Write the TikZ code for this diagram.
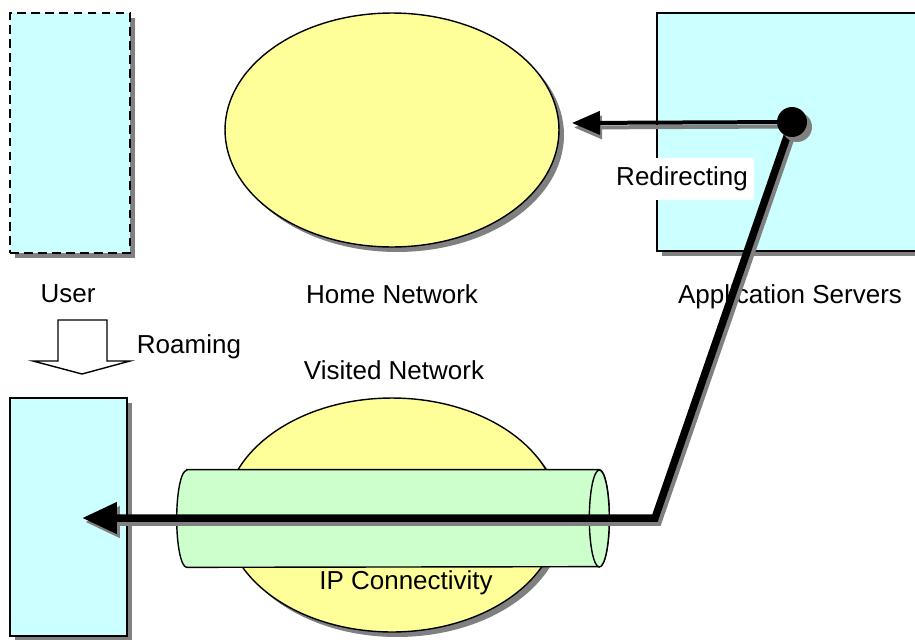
\documentclass[tikz,border=0pt]{standalone}
\usepackage{fontspec}
\setmainfont{Liberation Sans}
\usetikzlibrary{shapes.geometric,shadows,arrows.meta}

\definecolor{term}{RGB}{204,255,255}
\definecolor{net}{RGB}{255,255,153}
\definecolor{tube}{RGB}{204,255,204}
\definecolor{shadowgrey}{RGB}{128,128,128}

\tikzset{
  grayshadow/.style={drop shadow={shadow xshift=.1cm,shadow yshift=-.1cm,fill=shadowgrey,opacity=1}},
  terminal/.style={draw,line width=.8pt,fill=term,inner sep=0,grayshadow},
  network/.style={ellipse,draw,line width=.8pt,fill=net,inner sep=0,minimum width=6.68cm,minimum height=4.68cm,grayshadow},
  pipecap/.style={x radius=.2cm,y radius=.97cm},
  flow/.style={line width=.15cm,line join=miter,-{Triangle[length=.7cm,width=.6cm]}},
  hint/.style={line width=.08cm,-{Triangle[length=.56cm,width=.46cm]}}
}

\begin{document}
\begin{tikzpicture}[x=0.02cm,y=-0.02cm,font=\fontsize{14.8}{17}\selectfont]
  \useasboundingbox (0,0) rectangle (915,639);
  \clip (0,0) rectangle (915,639);

  % terminals and networks
  \node[terminal,dash pattern=on 5pt off 3pt,line width=1.5pt,minimum width=2.4cm,minimum height=4.8cm] (user) at (70,133) {};
  \node[terminal,minimum width=2.34cm,minimum height=4.76cm] (mobile) at (68.5,517) {};
  \node[terminal,minimum width=6cm,minimum height=4.76cm] (apps) at (807,132) {};
  \node[network] (home) at (392,130) {};
  \node[network] (visited) at (392,515) {};

  % the IP pipe
  \node[minimum width=8.24cm,minimum height=1.94cm,inner sep=0] (tunnel) at (393,518.5) {};
  \draw[line width=.8pt,fill=tube] (tunnel.north west) -- (tunnel.north east)
    arc[start angle=90,end angle=-90,pipecap] -- (tunnel.south west)
    arc[start angle=270,end angle=90,pipecap] -- cycle;
  \draw[line width=.8pt,fill=tube] (tunnel.east) ellipse[pipecap];

  % labels
  \node (userlbl) at (68,294) {User};
  \node (homelbl) at (392,294) {Home Network};
  \node (appslbl) at (790,297) {Application Servers};
  \node (roamlbl) at (189,347) {Roaming};
  \node (visitlbl) at (394,370) {Visited Network};
  \node (iplbl) at (406,583) {IP Connectivity};
  \node[fill=white,minimum width=2.82cm,minimum height=.84cm] (redirlbl) at (682,179) {Redirecting};

  % roaming block arrow
  \draw[line width=.8pt,fill=white] (58,320) -- (107,320) -- (107,361) -- (130,361) -- (82,374)
    -- (33,361) -- (58,361) -- cycle;

  \coordinate (hubpt) at (792,122);
  \coordinate (bend) at (655,518);
  \coordinate (tip) at (82,518);
  \coordinate (target) at (572,123);

  % signalling paths
  \draw[hint,shadowgrey,transform canvas={shift={(.04cm,-.09cm)}}] (hubpt) -- (target);
  \draw[hint] (hubpt) -- (target);
  \draw[flow,shadowgrey,transform canvas={shift={(.06cm,-.08cm)}}] (hubpt) -- (bend) -- (tip);
  \draw[flow] (hubpt) -- (bend) -- (tip);
  \node[circle,fill=black,minimum size=.6cm,inner sep=0,grayshadow] (hub) at (hubpt) {};

\end{tikzpicture}
\end{document}
